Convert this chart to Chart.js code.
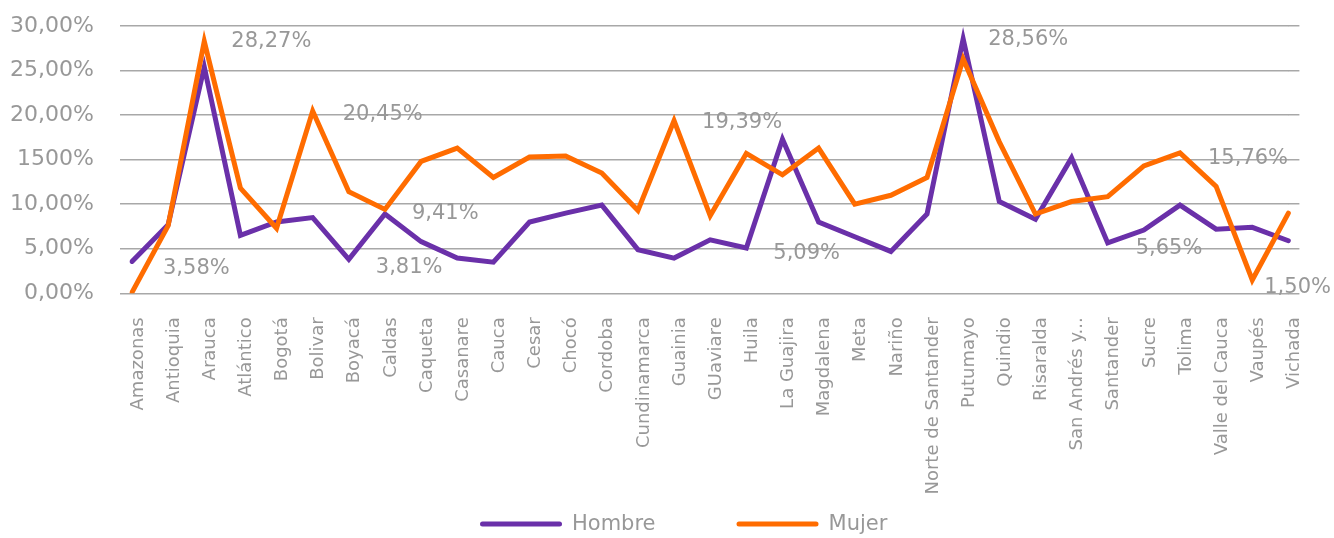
<!DOCTYPE html>
<html>
<head>
<meta charset="utf-8">
<script src="https://cdn.jsdelivr.net/npm/chart.js@4/dist/chart.umd.min.js"></script>
<style>
html,body{margin:0;padding:0;background:#ffffff;}
#wrap{width:1334px;height:538px;}
</style>
</head>
<body>
<div id="wrap"><canvas id="c" width="1334" height="538"></canvas></div>
<script>
const categories = ['Amazonas','Antioquia','Arauca','Atlántico','Bogotá','Bolivar','Boyacá','Caldas','Caqueta','Casanare','Cauca','Cesar','Chocó','Cordoba','Cundinamarca','Guainia','GUaviare','Huila','La Guajira','Magdalena','Meta','Nariño','Norte de Santander','Putumayo','Quindio','Risaralda','San Andrés y...','Santander','Sucre','Tolima','Valle del Cauca','Vaupés','Vichada'];
const hombre = [3.58,7.7,25.4,6.5,8.0,8.5,3.81,8.9,5.8,3.95,3.5,8.0,9.0,9.9,4.9,3.95,6.0,5.09,17.3,8.0,6.35,4.7,8.9,28.56,10.3,8.3,15.2,5.65,7.1,9.9,7.2,7.4,5.9];
const mujer = [0.1,7.6,28.27,11.8,7.3,20.45,11.4,9.41,14.8,16.3,13.0,15.3,15.4,13.5,9.3,19.39,8.7,15.7,13.3,16.3,10.0,11.0,13.0,26.3,17.0,8.9,10.3,10.85,14.3,15.76,12.0,1.50,9.0];
const seriesNames = ['Hombre','Mujer'];
const yTickLabels = ['0,00%','5,00%','10,00%','1500%','20,00%','25,00%','30,00%'];
const labeledHombre = ['Amazonas','Boyacá','Huila','Putumayo','Santander'];
const labeledMujer = ['Arauca','Bolivar','Caldas','Guainia','Tolima','Vaupés'];

const FONT = '"DejaVu Sans"';
const GRAY = '#989898';
const PURPLE = '#6a30a9';
const ORANGE = '#ff6c00';
const GRID = '#a8a8a8';

function fmt(v){ return v.toFixed(2).replace('.', ',') + '%'; }

// label offsets (pixels relative to the point), keyed by category name
const offsetsH = {'Amazonas':[31,6],'Boyacá':[27,7],'Huila':[27,4.5],'Putumayo':[25,-1],'Santander':[28,4]};
const offsetsM = {'Arauca':[27,-1],'Bolivar':[30,1.5],'Caldas':[27,2.5],'Guainia':[28,0.5],'Tolima':[28,4],'Vaupés':[12,6]};

const labelItems = [];
labeledHombre.forEach(n => labelItems.push({ds:0, idx:categories.indexOf(n), dx:offsetsH[n][0], dy:offsetsH[n][1]}));
labeledMujer.forEach(n => labelItems.push({ds:1, idx:categories.indexOf(n), dx:offsetsM[n][0], dy:offsetsM[n][1]}));

const valueLabels = {
  id: 'valueLabels',
  afterDatasetsDraw(chart, args, opts) {
    const ctx = chart.ctx;
    ctx.save();
    ctx.font = '21px ' + FONT;
    ctx.fillStyle = GRAY;
    ctx.textAlign = 'left';
    ctx.textBaseline = 'middle';
    opts.items.forEach(it => {
      const el = chart.getDatasetMeta(it.ds).data[it.idx];
      const v = chart.data.datasets[it.ds].data[it.idx];
      ctx.fillText(fmt(v), el.x + it.dx, el.y + it.dy + 1.5);
    });
    ctx.restore();
  }
};

const lineLegend = {
  id: 'lineLegend',
  afterDraw(chart, args, opts) {
    const ctx = chart.ctx;
    ctx.save();
    ctx.font = '21px ' + FONT;
    ctx.textAlign = 'left';
    ctx.textBaseline = 'middle';
    let x = opts.x;
    chart.data.datasets.forEach(ds => {
      ctx.strokeStyle = ds.borderColor;
      ctx.lineWidth = ds.borderWidth;
      ctx.lineCap = 'round';
      ctx.beginPath();
      ctx.moveTo(x + ds.borderWidth / 2, opts.y);
      ctx.lineTo(x + opts.lineLen - ds.borderWidth / 2, opts.y);
      ctx.stroke();
      ctx.fillStyle = GRAY;
      const tx = x + opts.lineLen + opts.textGap;
      ctx.fillText(ds.label, tx, opts.y + 1);
      x = tx + ctx.measureText(ds.label).width + opts.itemGap;
    });
    ctx.restore();
  }
};

new Chart(document.getElementById('c'), {
  type: 'line',
  data: {
    labels: categories,
    datasets: [
      {label: seriesNames[0], data: hombre, borderColor: PURPLE, backgroundColor: PURPLE, borderWidth: 5, pointRadius: 0, borderCapStyle: 'round', borderJoinStyle: 'miter', tension: 0, order: 1, yAxisID: 'y'},
      {label: seriesNames[1], data: mujer, borderColor: ORANGE, backgroundColor: ORANGE, borderWidth: 5, pointRadius: 0, borderCapStyle: 'round', borderJoinStyle: 'miter', tension: 0, order: 0, yAxisID: 'y'}
    ]
  },
  options: {
    responsive: false,
    animation: false,
    devicePixelRatio: 1,
    layout: {padding: {left: 0, right: 0, top: 26, bottom: 0}},
    scales: {
      x: {
        offset: false,
        grid: {display: false, drawTicks: false},
        border: {display: false},
        ticks: {autoSkip: false, maxRotation: 90, minRotation: 90, padding: 24, labelOffset: 6, color: GRAY, font: {family: FONT, size: 18}},
        afterFit(s) { s.height = 244.7; }
      },
      y: {
        position: 'left',
        min: 0, max: 30,
        ticks: {stepSize: 5, padding: 26, color: GRAY, font: {family: FONT, size: 22}, callback: (v, i) => yTickLabels[i]},
        grid: {color: GRID, lineWidth: 1.5, drawTicks: true, tickLength: 12, tickColor: GRID},
        border: {display: false},
        afterFit(s) { s.width = 132; s.paddingTop = 0; s.paddingBottom = 0; }
      },
      y2: {
        position: 'right',
        min: 0, max: 30,
        ticks: {stepSize: 5, display: false},
        grid: {drawOnChartArea: false, drawTicks: true, tickLength: 11, tickColor: GRID, color: GRID, lineWidth: 1.5},
        border: {display: false},
        afterFit(s) { s.width = 39; s.paddingTop = 0; s.paddingBottom = 0; }
      }
    },
    plugins: {
      tooltip: {enabled: false},
      legend: {display: false},
      valueLabels: {items: labelItems},
      lineLegend: {x: 480, y: 524, lineLen: 82, textGap: 10, itemGap: 81}
    }
  },
  plugins: [valueLabels, lineLegend]
});
</script>
</body>
</html>
